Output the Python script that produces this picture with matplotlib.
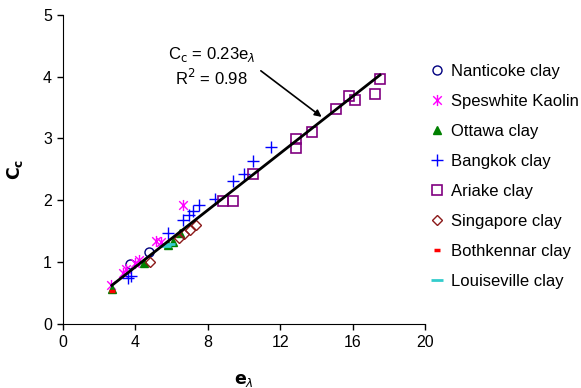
import numpy as np
import matplotlib
matplotlib.use("Agg")
import matplotlib.pyplot as plt
from matplotlib.path import Path

plt.rcParams['font.family'] = ['Liberation Sans', 'DejaVu Sans']

# data
nanticoke_e = [3.7, 4.75]
nanticoke_c = [0.97, 1.16]

speswhite_e = [2.65, 3.3, 3.5, 4.0, 4.2, 5.15, 5.4, 6.6]
speswhite_c = [0.63, 0.82, 0.88, 0.98, 1.03, 1.34, 1.33, 1.92]

ottawa_e = [2.72, 4.45, 5.8, 6.1, 6.45]
ottawa_c = [0.56, 0.98, 1.28, 1.33, 1.46]

bangkok_e = [3.6, 3.75, 5.8, 6.6, 6.95, 7.2, 7.5, 8.4, 9.4, 10.0, 10.5, 11.5]
bangkok_c = [0.74, 0.78, 1.46, 1.68, 1.76, 1.82, 1.92, 2.02, 2.31, 2.43, 2.63, 2.86]

ariake_e = [8.85, 9.4, 10.5, 12.85, 12.85, 13.75, 15.05, 15.8, 16.1, 17.2, 17.5]
ariake_c = [1.99, 1.99, 2.42, 2.99, 2.84, 3.10, 3.47, 3.69, 3.62, 3.72, 3.96]

singapore_e = [4.8, 6.4, 6.7, 7.0, 7.35]
singapore_c = [1.0, 1.38, 1.45, 1.52, 1.60]

bothkennar_e = [2.72]
bothkennar_c = [0.53]

louiseville_e = [5.65, 5.85]
louiseville_c = [1.25, 1.29]

fit_slope = 0.23
fit_range = [2.7, 17.5]

# Excel style star: x with a vertical bar
star = Path([(-1, -1), (1, 1), (-1, 1), (1, -1), (0, -1.3), (0, 1.3)],
            [Path.MOVETO, Path.LINETO, Path.MOVETO, Path.LINETO, Path.MOVETO, Path.LINETO])

fig = plt.figure(figsize=(5.81, 3.88), dpi=100)
ax = fig.add_axes([0.1084, 0.1657, 0.6236, 0.7963])

ax.plot(nanticoke_e, nanticoke_c, 'o', ms=6.5, mfc='none', mec='#000080', mew=1.0,
        label='Nanticoke clay', zorder=3)
ax.plot(speswhite_e, speswhite_c, linestyle='none', marker=star, ms=8, mfc='none',
        mec='#FF00FF', mew=1.0, label='Speswhite Kaolin', zorder=3)
ax.plot(ottawa_e, ottawa_c, '^', ms=6, color='#008000', mec='#008000',
        label='Ottawa clay', zorder=3)
ax.plot(bangkok_e, bangkok_c, '+', ms=9, color='#0000FF', mew=1.0,
        label='Bangkok clay', zorder=3)
ax.plot(ariake_e, ariake_c, 's', ms=7.5, mfc='none', mec='#800080', mew=1.2,
        label='Ariake clay', zorder=3)
ax.plot(singapore_e, singapore_c, 'D', ms=5.5, mfc='none', mec='#8B1A1A', mew=1.0,
        label='Singapore clay', zorder=3)
ax.plot(bothkennar_e, bothkennar_c, '_', ms=5, color='#FF0000', mew=2.5,
        label='Bothkennar clay', zorder=3)
ax.plot(louiseville_e, louiseville_c, '_', ms=8, color='#33CCCC', mew=2,
        label='Louiseville clay', zorder=3)

fit_e = np.array(fit_range)
ax.plot(fit_e, fit_slope * fit_e, color='black', lw=2, zorder=4)

ax.set_xlim(0, 20)
ax.set_ylim(0, 5)
ax.set_xticks(np.arange(0, 21, 4))
ax.set_yticks(np.arange(0, 6, 1))
ax.tick_params(labelsize=11.5, direction='out', length=4, width=1, pad=4)
for s in ['top', 'right']:
    ax.spines[s].set_visible(False)

ax.set_xlabel(r'$\mathbf{e}_{\lambda}$', fontsize=12.5, fontweight='bold', labelpad=16)
ax.set_ylabel(r'$\mathbf{C}_{\mathbf{c}}$', fontsize=12.5, fontweight='bold', labelpad=13)

ax.annotate('', xy=(14.4, 3.32), xytext=(10.8, 4.12),
            arrowprops=dict(arrowstyle='-|>', color='black', lw=1.2, mutation_scale=10))
ax.text(8.2, 4.36, r'C$_\mathrm{c}$ = 0.23e$_\lambda$', fontsize=12, ha='center', va='center')
ax.text(8.2, 3.97, r'R$^2$ = 0.98', fontsize=12, ha='center', va='center')

ax.legend(loc='upper left', bbox_to_anchor=(1.01, 0.84), frameon=False, fontsize=12,
          handlelength=1.0, handletextpad=0.3, labelspacing=0.9, borderpad=0,
          borderaxespad=0)

fig.savefig('out.png', dpi=100)
